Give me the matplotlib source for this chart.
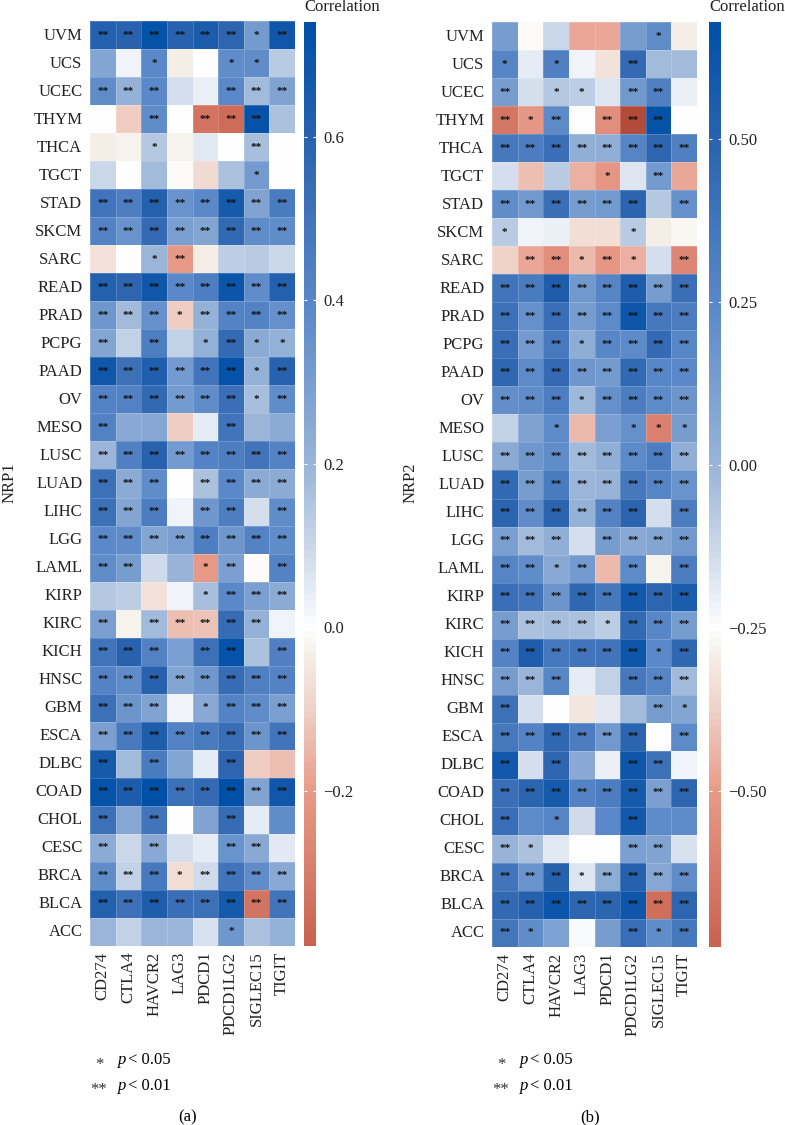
import matplotlib
matplotlib.use("Agg")
import matplotlib.pyplot as plt
import numpy as np
from matplotlib.colors import LinearSegmentedColormap, Normalize
from matplotlib.transforms import ScaledTranslation

W, H = 785, 1125

CANCERS = ["UVM", "UCS", "UCEC", "THYM", "THCA", "TGCT", "STAD", "SKCM", "SARC", "READ", "PRAD",
           "PCPG", "PAAD", "OV", "MESO", "LUSC", "LUAD", "LIHC", "LGG", "LAML", "KIRP", "KIRC",
           "KICH", "HNSC", "GBM", "ESCA", "DLBC", "COAD", "CHOL", "CESC", "BRCA", "BLCA", "ACC"]
GENES = ["CD274", "CTLA4", "HAVCR2", "LAG3", "PDCD1", "PDCD1LG2", "SIGLEC15", "TIGIT"]

NRP1 = [
    [.62, .60, .72, .60, .65, .58, .32, .68],
    [.27, .03, .40, -.03, .005, .38, .38, .14],
    [.38, .22, .40, .08, .04, .40, .18, .28],
    [.0, -.10, .38, .0, -.33, -.35, .72, .16],
    [-.03, -.025, .15, -.02, .06, .0, .17, .0],
    [.10, .0, .18, -.01, -.08, .16, .32, .0],
    [.50, .45, .62, .35, .40, .66, .28, .47],
    [.42, .35, .56, .30, .27, .57, .38, .38],
    [-.06, .0, .20, -.20, -.03, .13, .14, .10],
    [.62, .58, .68, .40, .45, .70, .38, .62],
    [.33, .18, .36, -.10, .22, .42, .42, .36],
    [.27, .12, .45, .12, .22, .56, .24, .22],
    [.68, .52, .63, .32, .50, .72, .22, .60],
    [.43, .43, .57, .32, .38, .53, .17, .38],
    [.43, .25, .26, -.10, .05, .50, .20, .24],
    [.20, .44, .60, .32, .42, .45, .50, .42],
    [.52, .24, .38, .0, .16, .40, .24, .24],
    [.52, .27, .46, .03, .33, .45, .08, .38],
    [.40, .38, .27, .30, .45, .33, .42, .38],
    [.38, .31, .09, .21, -.20, .30, -.01, .42],
    [.15, .13, -.06, .03, .17, .40, .30, .24],
    [.30, -.02, .18, -.13, -.12, .55, .22, .03],
    [.50, .60, .43, .30, .52, .72, .16, .44],
    [.42, .38, .60, .27, .33, .55, .44, .42],
    [.52, .34, .28, .03, .25, .42, .38, .30],
    [.30, .48, .64, .43, .47, .54, .34, .50],
    [.66, .18, .47, .27, .05, .58, -.10, -.13],
    [.72, .65, .75, .52, .56, .74, .28, .68],
    [.52, .26, .50, .0, .28, .55, .05, .38],
    [.24, .10, .25, .08, .05, .35, .25, .06],
    [.38, .12, .48, -.07, .09, .50, .38, .25],
    [.62, .52, .64, .53, .52, .66, -.33, .50],
    [.20, .12, .20, .20, .07, .33, .16, .22],
]
NRP1_SIG = [
    [2, 2, 2, 2, 2, 2, 1, 2],
    [0, 0, 1, 0, 0, 1, 1, 0],
    [2, 2, 2, 0, 0, 2, 2, 2],
    [0, 0, 2, 0, 2, 2, 2, 0],
    [0, 0, 1, 0, 0, 0, 2, 0],
    [0, 0, 0, 0, 0, 0, 1, 0],
    [2, 2, 2, 2, 2, 2, 2, 2],
    [2, 2, 2, 2, 2, 2, 2, 2],
    [0, 0, 1, 2, 0, 0, 0, 0],
    [2, 2, 2, 2, 2, 2, 2, 2],
    [2, 2, 2, 1, 2, 2, 2, 2],
    [2, 0, 2, 0, 1, 2, 1, 1],
    [2, 2, 2, 2, 2, 2, 1, 2],
    [2, 2, 2, 2, 2, 2, 1, 2],
    [2, 0, 0, 0, 0, 2, 0, 0],
    [2, 2, 2, 2, 2, 2, 2, 2],
    [2, 2, 2, 0, 2, 2, 2, 2],
    [2, 2, 2, 0, 2, 2, 0, 2],
    [2, 2, 2, 2, 2, 2, 2, 2],
    [2, 2, 0, 0, 1, 2, 0, 2],
    [0, 0, 0, 0, 1, 2, 2, 2],
    [2, 0, 2, 2, 2, 2, 2, 0],
    [2, 2, 2, 0, 2, 2, 0, 2],
    [2, 2, 2, 2, 2, 2, 2, 2],
    [2, 2, 2, 0, 1, 2, 2, 2],
    [2, 2, 2, 2, 2, 2, 2, 2],
    [2, 0, 2, 0, 0, 2, 0, 0],
    [2, 2, 2, 2, 2, 2, 2, 2],
    [2, 0, 2, 0, 0, 2, 0, 0],
    [2, 0, 2, 0, 0, 2, 2, 0],
    [2, 2, 2, 1, 2, 2, 2, 2],
    [2, 2, 2, 2, 2, 2, 2, 2],
    [0, 0, 0, 0, 0, 1, 0, 0],
]

NRP2 = [
    [.13, -.255, -.12, -.47, -.47, .13, .22, -.29],
    [.27, -.19, .30, -.21, -.33, .45, -.02, -.02],
    [.13, -.14, -.07, -.09, -.17, .16, .30, -.20],
    [-.65, -.52, .24, -.25, -.55, -.85, .65, -.25],
    [.36, .33, .42, .03, .04, .27, .48, .30],
    [-.15, -.42, -.08, -.45, -.52, -.17, .15, -.47],
    [.22, .16, .42, .13, .15, .50, -.07, .20],
    [-.08, -.21, -.20, -.34, -.34, -.08, -.29, -.27],
    [-.37, -.47, -.55, -.43, -.52, -.45, -.15, -.58],
    [.38, .34, .55, .16, .27, .55, .14, .42],
    [.40, .20, .43, .13, .24, .62, .36, .33],
    [.42, .15, .35, .05, .26, .24, .45, .26],
    [.47, .24, .45, .17, .15, .46, .26, .25],
    [.21, .22, .32, -.01, .20, .33, .24, .18],
    [-.10, .11, .24, -.43, .12, .20, -.60, .14],
    [.06, .17, .22, -.02, .04, .24, .32, .03],
    [.46, .13, .34, .0, .01, .36, .27, .19],
    [.49, .22, .50, .02, .28, .50, -.14, .33],
    [.12, -.02, .04, -.14, .14, .07, .09, .16],
    [.27, .22, .07, .15, -.43, .24, -.28, .33],
    [.42, .38, .18, .47, .36, .60, .48, .56],
    [.14, -.04, -.03, -.04, -.09, .46, .26, .13],
    [.28, .55, .36, .38, .38, .62, .25, .47],
    [.13, .0, .26, -.19, -.10, .36, .27, -.02],
    [.40, -.14, -.25, -.31, -.18, -.02, .14, .09],
    [.36, .28, .47, .33, .16, .50, -.25, .24],
    [.60, -.14, .48, .07, -.20, .62, .40, -.21],
    [.42, .50, .58, .28, .33, .58, .12, .48],
    [.43, .24, .27, -.13, .25, .60, .24, .24],
    [.01, -.04, -.18, -.25, -.25, .12, .10, -.16],
    [.38, .19, .52, -.17, .05, .52, .08, .22],
    [.46, .52, .63, .48, .50, .62, -.68, .48],
    [.37, .22, .11, -.24, .13, .43, .23, .36],
]
NRP2_SIG = [
    [0, 0, 0, 0, 0, 0, 1, 0],
    [1, 0, 1, 0, 0, 2, 0, 0],
    [2, 0, 1, 1, 0, 2, 2, 0],
    [2, 1, 2, 0, 2, 2, 2, 0],
    [2, 2, 2, 2, 2, 2, 2, 2],
    [0, 0, 0, 0, 1, 0, 2, 0],
    [2, 2, 2, 2, 2, 2, 0, 2],
    [1, 0, 0, 0, 0, 1, 0, 0],
    [0, 2, 2, 1, 2, 1, 0, 2],
    [2, 2, 2, 2, 2, 2, 2, 2],
    [2, 2, 2, 2, 2, 2, 2, 2],
    [2, 2, 2, 1, 2, 2, 2, 2],
    [2, 2, 2, 2, 2, 2, 2, 2],
    [2, 2, 2, 1, 2, 2, 2, 2],
    [0, 0, 1, 0, 0, 1, 1, 1],
    [2, 2, 2, 2, 2, 2, 2, 2],
    [2, 2, 2, 2, 2, 2, 2, 2],
    [2, 2, 2, 2, 2, 2, 0, 2],
    [2, 2, 2, 0, 2, 2, 2, 2],
    [2, 2, 1, 2, 0, 2, 0, 2],
    [2, 2, 2, 2, 2, 2, 2, 2],
    [2, 2, 2, 2, 1, 2, 2, 2],
    [2, 2, 2, 2, 2, 2, 1, 2],
    [2, 2, 2, 0, 0, 2, 2, 2],
    [2, 0, 0, 0, 0, 0, 2, 1],
    [2, 2, 2, 2, 2, 2, 0, 2],
    [2, 0, 2, 0, 0, 2, 2, 0],
    [2, 2, 2, 2, 2, 2, 2, 2],
    [2, 0, 1, 0, 0, 2, 0, 0],
    [2, 1, 0, 0, 0, 2, 2, 0],
    [2, 2, 2, 1, 2, 2, 2, 2],
    [2, 2, 2, 2, 2, 2, 2, 2],
    [2, 1, 0, 0, 0, 2, 1, 2],
]

NRP1_TICKS = [-0.2, 0.0, 0.2, 0.4, 0.6]
NRP1_TICK_LABELS = ["\u22120.2", "0.0", "0.2", "0.4", "0.6"]
NRP2_TICKS = [-0.5, -0.25, 0.0, 0.25, 0.5]
NRP2_TICK_LABELS = ["\u22120.50", "\u22120.25", "0.00", "0.25", "0.50"]

plt.rcParams["font.family"] = ["Liberation Serif", "DejaVu Serif"]

# colours are placed on the NRP1 scale, the dark end only shows up in cells
stops = [(-0.60, "#983020"), (-0.39, "#c9614f"), (-0.20, "#e89a88"), (-0.10, "#efd0c6"),
         (-0.02, "#f6f4ee"), (0.0, "#ffffff"), (0.10, "#cbd8e9"), (0.20, "#9ab5d8"),
         (0.40, "#5a88c8"), (0.60, "#2a63ae"), (0.74, "#0050a8")]
low, high = stops[0][0], stops[-1][0]
cmap = LinearSegmentedColormap.from_list(
    "corr", [((v - low) / (high - low), c) for v, c in stops], N=150)


def box(x0, y0, x1, y1):
    return [x0 / W, 1 - y1 / H, (x1 - x0) / W, (y1 - y0) / H]


def panel(fig, values, sig, norm, name, ticks, tick_labels, cbar_lim, x0, y0, cx0, y_label_x, leg_x, tag):
    ax = fig.add_axes(box(x0, y0, x0 + 205, y0 + 925))
    mesh = ax.pcolormesh(np.array(values), cmap=cmap, norm=norm, edgecolors="#ffffff30", linewidth=0.4)
    ax.set_xlim(0, len(GENES))
    ax.set_ylim(len(CANCERS), 0)
    ax.set_xticks(np.arange(len(GENES)) + 0.5, GENES, rotation=90, fontsize=12, color="#222222")
    ax.set_yticks(np.arange(len(CANCERS)) + 0.5, CANCERS, fontsize=12, color="#222222")
    ax.tick_params(length=0)
    ax.tick_params(axis="x", pad=4)
    ax.tick_params(axis="y", pad=5.5)
    # row names sit a little above the cell centre
    nudge = ScaledTranslation(0, 1.5 / 100, fig.dpi_scale_trans)
    for label in ax.get_yticklabels():
        label.set_transform(label.get_transform() + nudge)
    for s in ax.spines.values():
        s.set_visible(False)

    for r, row in enumerate(sig):
        for c, n in enumerate(row):
            if n:
                ax.text(c + 0.5, r + 0.5, "*" * n, ha="center", va="center", fontsize=8,
                        fontweight="bold", color="#111111")

    cax = fig.add_axes(box(cx0, y0, cx0 + 12, y0 + 925))
    cbar = fig.colorbar(mesh, cax=cax)
    cbar.solids.set_edgecolor("face")
    cbar.outline.set_visible(False)
    cbar.set_ticks(ticks, labels=tick_labels)
    cax.set_ylim(*cbar_lim)
    cax.tick_params(direction="in", left=True, right=True, color="white", length=2.5, width=0.8,
                    labelsize=12, pad=5, labelcolor="#222222")

    fig.text(cx0 / W, 1 - 7 / H, "Correlation", fontsize=12, va="center", color="#222222")
    fig.text(y_label_x / W, 1 - 483 / H, name, rotation=90, fontsize=12, ha="center", va="center",
             color="#222222")

    fig.text((leg_x + 9) / W, 1 - 1065 / H, "*", fontsize=12, ha="center", va="center", color="#333333")
    fig.text((leg_x + 9) / W, 1 - 1090 / H, "**", fontsize=12, ha="center", va="center", color="#333333")
    fig.text((leg_x + 28) / W, 1 - 1060 / H, "p", style="italic", fontsize=12, va="center")
    fig.text((leg_x + 38) / W, 1 - 1060 / H, "< 0.05", fontsize=12, va="center")
    fig.text((leg_x + 28) / W, 1 - 1086 / H, "p", style="italic", fontsize=12, va="center")
    fig.text((leg_x + 38) / W, 1 - 1086 / H, "< 0.01", fontsize=12, va="center")
    fig.text((leg_x + 98) / W, 1 - 1117 / H, tag, fontsize=12, ha="center", va="center")


fig = plt.figure(figsize=(W / 100, H / 100), dpi=100)

panel(fig, NRP1, NRP1_SIG, Normalize(low, high), "NRP1", NRP1_TICKS, NRP1_TICK_LABELS,
      (-0.39, 0.742), 90, 21, 304, 10, 90, "(a)")
# NRP2 legend runs on its own range, white sits at -0.25
panel(fig, NRP2, NRP2_SIG, Normalize(-0.25 + 1.257 * low, -0.25 + 1.257 * high), "NRP2",
      NRP2_TICKS, NRP2_TICK_LABELS, (-0.74, 0.68), 492, 22, 709, 411, 492, "(b)")

fig.savefig("out.png", dpi=100)
